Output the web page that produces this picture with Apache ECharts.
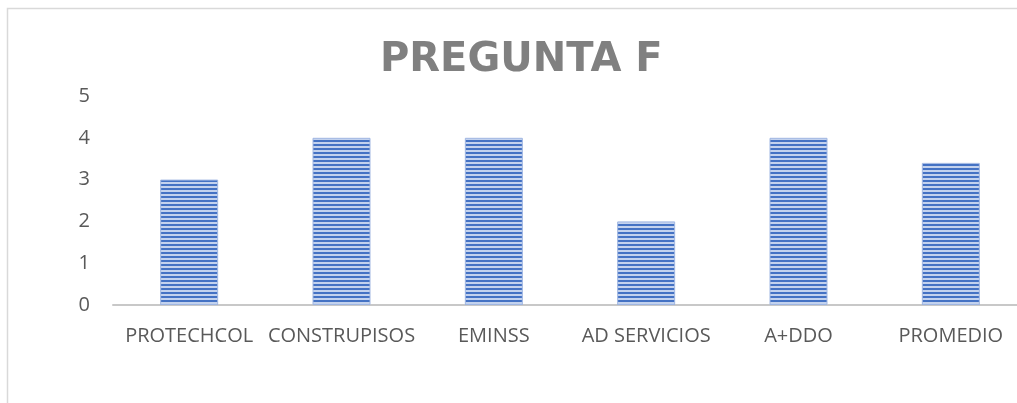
<!DOCTYPE html>
<html>
<head>
<meta charset="utf-8">
<script src="https://cdn.jsdelivr.net/npm/echarts@6/dist/echarts.min.js"></script>
<style>
  html, body { margin: 0; padding: 0; background: #fff; overflow: hidden; }
  /* the original chart runs a bit past the right edge of the picture */
  #chart { width: 1027px; height: 403px; }
</style>
</head>
<body>
<div id="chart"></div>
<script>
const categories = ['PROTECHCOL', 'CONSTRUPISOS', 'EMINSS', 'AD SERVICIOS', 'A+DDO', 'PROMEDIO'];
const values = [3, 4, 4, 2, 4, 3.4];
const yTicks = [0, 1, 2, 3, 4, 5];

// striped fill like the excel "horizontal lines" pattern
function stripes() {
    const c = document.createElement('canvas');
    c.width = 4;
    c.height = 4;
    const ctx = c.getContext('2d');
    ctx.fillStyle = '#c3d2ee';
    ctx.fillRect(0, 0, 4, 4);
    ctx.fillStyle = '#4472c4';
    ctx.fillRect(0, 0, 4, 2);
    return c;
}

const myChart = echarts.init(document.getElementById('chart'));

myChart.setOption({
    backgroundColor: '#fff',
    animation: false,
    title: {
        text: 'PREGUNTA F',
        left: 375,
        top: 36,
        textStyle: {
            fontFamily: 'DejaVu Sans',
            fontWeight: 'bold',
            fontSize: 40,
            color: '#808080'
        }
    },
    graphic: [{
        type: 'rect',
        shape: { x: 7.5, y: 8.5, width: 1100, height: 420 },
        style: { fill: 'none', stroke: '#d9d9d9', lineWidth: 1.5 },
        silent: true
    }],
    grid: {
        left: 113,
        top: 96,
        width: 914,
        height: 209
    },
    xAxis: {
        type: 'category',
        data: categories,
        axisTick: { show: false },
        axisLine: { lineStyle: { color: '#c8c8c8', width: 2 } },
        axisLabel: {
            interval: 0,
            margin: 21,
            fontFamily: 'Open Sans',
            fontSize: 20,
            color: '#595959'
        }
    },
    yAxis: {
        type: 'value',
        min: 0,
        max: 5,
        interval: 1,
        axisLine: { show: false },
        axisTick: { show: false },
        splitLine: { show: false },
        axisLabel: {
            margin: 23,
            fontFamily: 'Open Sans',
            fontSize: 20,
            color: '#595959',
            formatter: function (v) { return yTicks.includes(v) ? String(v) : ''; }
        }
    },
    series: [{
        type: 'bar',
        data: values,
        barWidth: 58,
        itemStyle: {
            color: { image: stripes(), repeat: 'repeat' },
            borderColor: '#9fb6e2',
            borderWidth: 1
        }
    }]
});
</script>
</body>
</html>
